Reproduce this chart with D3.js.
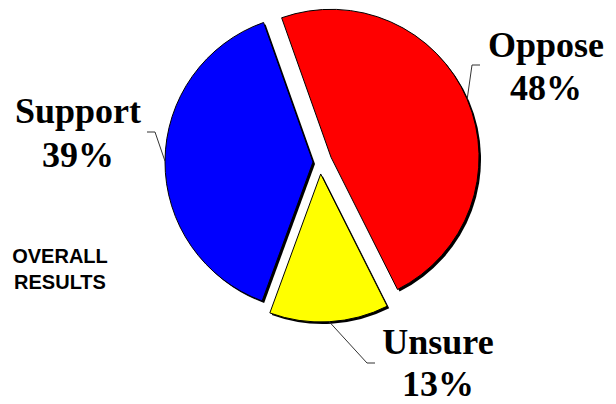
<!DOCTYPE html>
<html>
<head>
<meta charset="utf-8">
<script src="https://cdn.jsdelivr.net/npm/d3@7"></script>
<style>
  html, body { margin: 0; padding: 0; background: #fff; }
  svg { display: block; }
</style>
</head>
<body>
<svg id="chart"></svg>
<script>
// data
var names = ["Oppose", "Unsure", "Support"]
var values = [48, 13, 39]
var pctLabels = ["48%", "13%", "39%"]
var colors = ["#ff0000", "#ffff00", "#0000ff"]

// layout (label anchors and leader elbows, pixels)
var labelPos = [[546, 57], [438, 354], [78, 123]]
var lineGap = [43, 42, 44]
var leaderElbow = [[[472, 65], [480, 65]], [[367, 363], [375, 363]], [[155, 132], [147, 132]]]
var explode = [12, 12, 7]

var width = 616, height = 404
var cx = 320, cy = 162, radius = 148

var svg = d3.select("#chart")
  .attr("width", width)
  .attr("height", height)

var start = -19.5 * Math.PI / 180
var pie = d3.pie().sort(null).value(d => d)
  .startAngle(start).endAngle(start + 2 * Math.PI)
var arcs = pie(values)

var arc = d3.arc().innerRadius(0).outerRadius(radius)

function midAngle(d) { return (d.startAngle + d.endAngle) / 2 }
function sliceCenter(d, i) {
  var a = midAngle(d)
  return [cx + explode[i] * Math.sin(a), cy - explode[i] * Math.cos(a)]
}

var g = svg.append("g")

// drop shadows
g.selectAll("path.shadow")
  .data(arcs)
  .join("path")
    .attr("class", "shadow")
    .attr("d", arc)
    .attr("fill", "#000")
    .attr("transform", (d, i) => {
      var c = sliceCenter(d, i)
      return `translate(${c[0] + 2},${c[1] + 2})`
    })

// slices
g.selectAll("path.slice")
  .data(arcs)
  .join("path")
    .attr("class", "slice")
    .attr("d", arc)
    .attr("fill", (d, i) => colors[i])
    .attr("stroke", "#000")
    .attr("stroke-width", 1)
    .attr("transform", (d, i) => {
      var c = sliceCenter(d, i)
      return `translate(${c[0]},${c[1]})`
    })

// leader lines
var line = d3.line()
g.selectAll("path.leader")
  .data(arcs)
  .join("path")
    .attr("class", "leader")
    .attr("fill", "none")
    .attr("stroke", "#333")
    .attr("stroke-width", 1)
    .attr("d", (d, i) => {
      var c = sliceCenter(d, i)
      var a = midAngle(d)
      var p0 = [c[0] + radius * Math.sin(a), c[1] - radius * Math.cos(a)]
      return line([p0].concat(leaderElbow[i]))
    })

// labels
var labels = g.selectAll("text.label")
  .data(arcs)
  .join("text")
    .attr("class", "label")
    .attr("text-anchor", "middle")
    .attr("font-family", "'Liberation Serif', 'Times New Roman', serif")
    .attr("font-weight", "bold")
    .attr("font-size", "36px")
    .attr("fill", "#000")

labels.append("tspan")
  .attr("x", (d, i) => labelPos[i][0])
  .attr("y", (d, i) => labelPos[i][1])
  .text((d, i) => names[i])
labels.append("tspan")
  .attr("x", (d, i) => labelPos[i][0])
  .attr("y", (d, i) => labelPos[i][1] + lineGap[i])
  .text((d, i) => pctLabels[i])

// caption
var caption = svg.append("text")
  .attr("text-anchor", "middle")
  .attr("font-family", "'Liberation Sans', Arial, sans-serif")
  .attr("font-weight", "bold")
  .attr("font-size", "20px")
  .attr("fill", "#000")
caption.append("tspan").attr("x", 60).attr("y", 263).text("OVERALL")
caption.append("tspan").attr("x", 60).attr("y", 289).text("RESULTS")
</script>
</body>
</html>
